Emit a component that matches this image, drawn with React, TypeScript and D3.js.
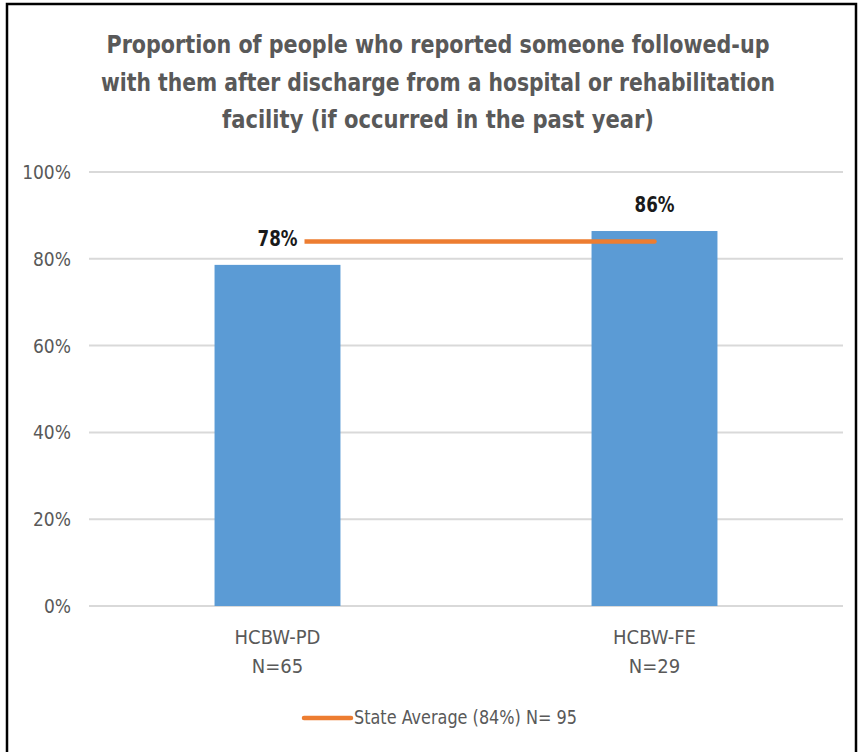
import React from "react";
import * as d3 from "d3";

const categories = ["HCBW-PD", "HCBW-FE"];
const sampleSizes = ["N=65", "N=29"];
const barValues = [0.786, 0.864];
const barLabels = ["78%", "86%"];
const stateAverage = [0.84, 0.84];
const yTicks = [0, 0.2, 0.4, 0.6, 0.8, 1.0];
const titleLines = [
  "Proportion of people who reported someone followed-up",
  "with them after discharge from a hospital or rehabilitation",
  "facility (if occurred in the past year)",
];
const titleWidths = [663, 674, 432];
const legendLabel = "State Average (84%) N= 95";

const W = 858;
const H = 752;
const FONT = "'Liberation Sans Narrow', 'DejaVu Sans Condensed', 'Roboto Condensed', sans-serif";

export default function App() {
  const x = d3.scaleBand<string>().domain(categories).range([89, 843]).paddingInner(0.666).paddingOuter(0.333);
  const y = d3.scaleLinear().domain([0, 1]).range([606, 172]);
  const center = (c: string) => (x(c) as number) + x.bandwidth() / 2;
  const line = d3
    .line<number>()
    .x((_, i) => center(categories[i]))
    .y((d) => y(d));
  const fmt = d3.format(".0%");

  return (
    <svg width={W} height={H} style={{ position: "absolute", left: 0, top: 0, background: "#fff" }}>
      <rect x={0} y={0} width={W} height={H} fill="#fff" />
      {/* title */}
      {titleLines.map((t, i) => (
        <text
          key={i}
          x={438}
          y={53 + i * 37.5}
          textAnchor="middle"
          fontFamily={FONT}
          fontWeight="bold"
          fontSize={24}
          fill="#595959"
          textLength={titleWidths[i]}
          lengthAdjust="spacingAndGlyphs"
        >
          {t}
        </text>
      ))}
      {/* gridlines */}
      {yTicks.map((t) => (
        <g key={t}>
          <line x1={89} x2={843} y1={y(t)} y2={y(t)} stroke="#D9D9D9" strokeWidth={2} />
          <text x={71} y={y(t) + 7} textAnchor="end" fontFamily={FONT} fontSize={19} fill="#595959">
            {fmt(t)}
          </text>
        </g>
      ))}
      {/* bars */}
      {categories.map((c, i) => (
        <rect key={c} x={x(c)} y={y(barValues[i])} width={x.bandwidth()} height={y(0) - y(barValues[i])} fill="#5B9BD5" />
      ))}
      {/* state average line */}
      <path d={line(stateAverage) || ""} fill="none" stroke="#ED7D31" strokeWidth={4.5} strokeLinecap="round" />
      {/* data labels */}
      {categories.map((c, i) => (
        <g key={c}>
          {i === 0 && <rect x={center(c) - 27} y={y(barValues[i]) - 38} width={54} height={26} fill="#fff" />}
          <text
            x={center(c)}
            y={y(barValues[i]) - 19}
            textAnchor="middle"
            fontFamily={FONT}
            fontWeight="bold"
            fontSize={22}
            fill="#1a1a1a"
            textLength={40}
            lengthAdjust="spacingAndGlyphs"
          >
            {barLabels[i]}
          </text>
        </g>
      ))}
      {/* x axis labels */}
      {categories.map((c, i) => (
        <g key={c}>
          <text x={center(c)} y={644} textAnchor="middle" fontFamily={FONT} fontSize={20} fill="#595959">
            {c}
          </text>
          <text x={center(c)} y={673} textAnchor="middle" fontFamily={FONT} fontSize={20} fill="#595959">
            {sampleSizes[i]}
          </text>
        </g>
      ))}
      {/* legend */}
      <line x1={304} x2={351} y1={718} y2={718} stroke="#ED7D31" strokeWidth={4.5} strokeLinecap="round" />
      <text x={354} y={724} fontFamily={FONT} fontSize={20} fill="#595959" textLength={223} lengthAdjust="spacingAndGlyphs">
        {legendLabel}
      </text>
      {/* frame */}
      <path d={`M7,${H + 5} V4 H856 V${H + 5}`} fill="none" stroke="#000" strokeWidth={2.5} />
    </svg>
  );
}
